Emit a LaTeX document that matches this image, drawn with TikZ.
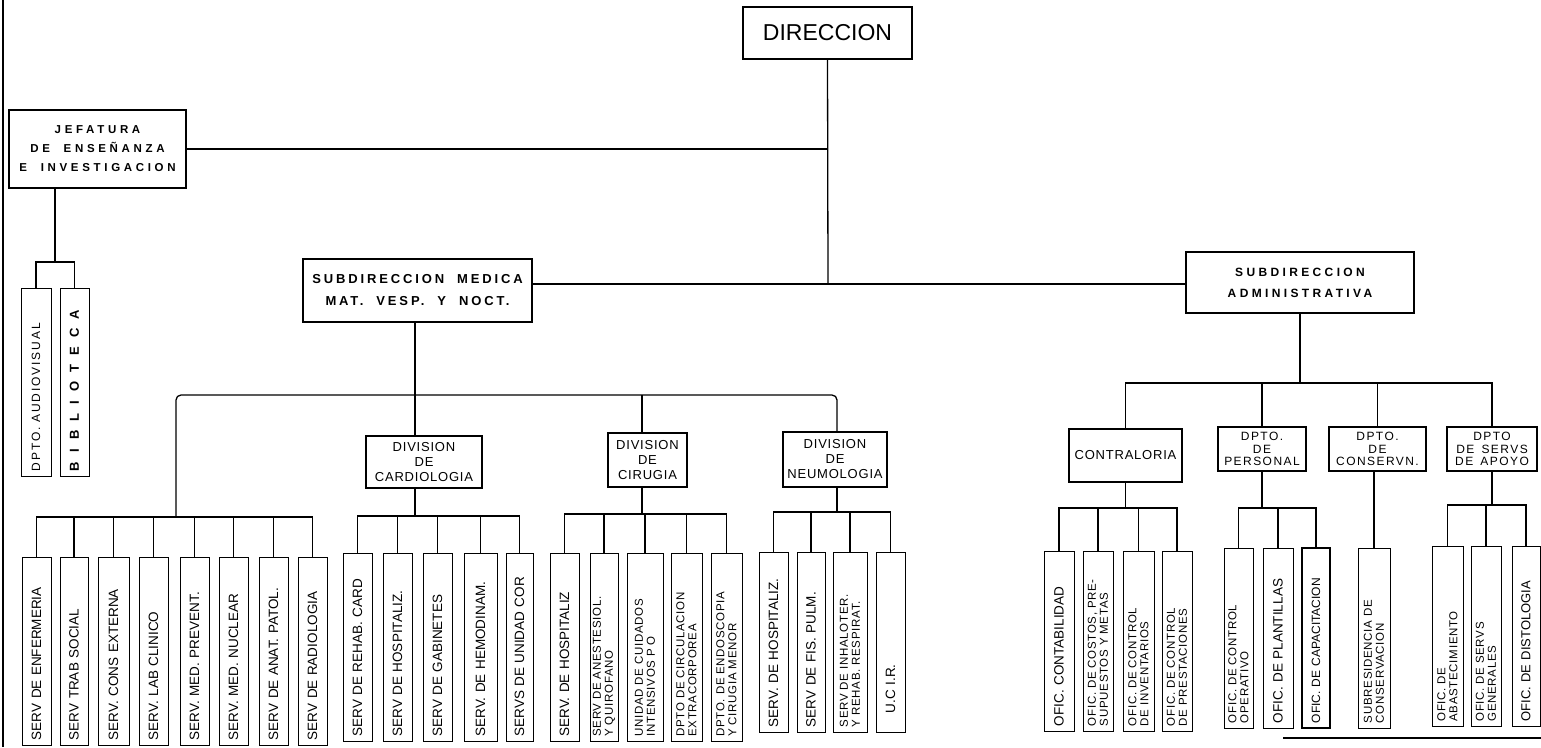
\documentclass[tikz,border=0pt]{standalone}
\usepackage{fontspec}
\setmainfont{Liberation Sans}
\newfontfamily\chieffont[LetterSpace=32, WordSpace=2]{Liberation Sans}
\newfontfamily\subhfont[LetterSpace=28, WordSpace=2]{Liberation Sans}
\newfontfamily\submfont[LetterSpace=22, WordSpace=2]{Liberation Sans}
\newfontfamily\divfont[LetterSpace=6]{Liberation Sans}
\newfontfamily\deptfont[LetterSpace=12, WordSpace=1.5]{Liberation Sans}
\newfontfamily\pairfont[LetterSpace=6, WordSpace=1.8]{Liberation Sans}
\newfontfamily\audiofont[LetterSpace=16, WordSpace=2]{Liberation Sans}
\newfontfamily\bibfont[LetterSpace=70]{Liberation Sans}
\usetikzlibrary{calc}

\begin{document}
\begin{tikzpicture}[x=1pt, y=-1pt,
    % Node styles
    head/.style={
        rectangle, draw=black, line width=1.1pt,
        minimum width=169pt, minimum height=52pt,
        font=\fontsize{23}{26}\selectfont,
    },
    chief/.style={
        rectangle, draw=black, line width=1.1pt, align=center,
        font=\chieffont\bfseries\fontsize{11.5}{19}\selectfont,
    },
    sub/.style={
        rectangle, draw=black, line width=1.1pt, align=center,
        font=\subhfont\bfseries\fontsize{12}{21}\selectfont,
    },
    division/.style={
        rectangle, draw=black, line width=1.1pt, align=center, inner sep=1pt,
        font=\divfont\fontsize{13}{15}\selectfont,
    },
    dept/.style={
        rectangle, draw=black, line width=1.1pt, align=center, inner sep=1pt,
        font=\deptfont\fontsize{12}{12.5}\selectfont,
    },
    leaf/.style={
        rectangle, draw=black, line width=1pt, rotate=90,
        minimum width=188pt, minimum height=29pt,
        text width=178pt, inner xsep=5pt, inner ysep=1pt, align=left,
        font=\fontsize{13.5}{14}\selectfont,
    },
    short/.style={minimum width=180pt, text width=170pt},
    pair/.style={font=\pairfont\fontsize{11.5}{12}\selectfont},
    line/.style={draw=black, line width=1.3pt},
]
\useasboundingbox (0,0) rectangle (1541,747);

% === Top level ===
\node[head] (dir) at (827.5,33) {DIRECCION};
\node[chief, minimum width=177pt, minimum height=78pt] (jef) at (97.5,149)
    {JEFATURA\\DE ENSEÑANZA\\E INVESTIGACION};
\node[sub, minimum width=229pt, minimum height=63pt,
      font=\submfont\bfseries\fontsize{13}{22}\selectfont]
    (subM) at (417.5,290.5) {SUBDIRECCION MEDICA\\MAT. VESP. Y NOCT.};
\node[sub, minimum width=228pt, minimum height=61pt] (subA) at (1300,282.5)
    {SUBDIRECCION\\ADMINISTRATIVA};

% === Divisions ===
\node[division, minimum width=116pt, minimum height=52pt] (divCard) at (424,462) {DIVISION\\DE\\CARDIOLOGIA};
\node[division, minimum width=79pt, minimum height=54pt] (divCir) at (647.5,460) {DIVISION\\DE\\CIRUGIA};
\node[division, minimum width=104pt, minimum height=55pt] (divNeu) at (835,459.5) {DIVISION\\DE\\NEUMOLOGIA};

% === Departments ===
\node[division, minimum width=113pt, minimum height=53pt] (contr) at (1125.5,455.5) {CONTRALORIA};
\node[dept, minimum width=88pt, minimum height=44pt] (pers) at (1262,449) {DPTO.\\DE\\PERSONAL};
\node[dept, minimum width=97pt, minimum height=44pt] (cons) at (1377.5,449) {DPTO.\\DE\\CONSERVN.};
\node[dept, minimum width=90pt, minimum height=44pt] (apoyo) at (1492,449) {DPTO\\DE SERVS\\DE APOYO};

% === Leaves: Jefatura ===
\node[leaf, minimum height=30pt, font=\audiofont\fontsize{12}{13}\selectfont]
    (j1) at (36,382) {DPTO. AUDIOVISUAL};
\node[leaf, font=\bibfont\bfseries\fontsize{13}{14}\selectfont]
    (j2) at (74.5,382) {BIBLIOTECA};

% === Leaves: general services ===
\node[leaf] (m1) at (36.5,651) {SERV DE ENFERMERIA};
\node[leaf, minimum height=28pt] (m2) at (74,651) {SERV TRAB SOCIAL};
\node[leaf, minimum height=31pt] (m3) at (113.5,651) {SERV. CONS EXTERNA};
\node[leaf] (m4) at (153.5,651) {SERV. LAB CLINICO};
\node[leaf] (m5) at (194.5,651) {SERV. MED. PREVENT.};
\node[leaf] (m6) at (233.5,651) {SERV. MED. NUCLEAR};
\node[leaf] (m7) at (273.5,651) {SERV DE ANAT. PATOL.};
\node[leaf] (m8) at (312.5,651) {SERV DE RADIOLOGIA};

% === Leaves: cardiologia ===
\node[leaf] (c1) at (357.5,647.5) {SERV DE REHAB. CARD};
\node[leaf] (c2) at (397.5,647.5) {SERV DE HOSPITALIZ.};
\node[leaf] (c3) at (437.5,647.5) {SERV DE GABINETES};
\node[leaf, minimum height=33pt] (c4) at (480.5,647.5) {SERV. DE HEMODINAM.};
\node[leaf, minimum height=27pt] (c5) at (519.5,647.5) {SERVS DE UNIDAD COR};

% === Leaves: cirugia ===
\node[leaf] (q1) at (564.5,647.5) {SERV. DE HOSPITALIZ};
\node[leaf, pair, minimum height=28pt] (q2) at (604,647.5) {SERV DE ANESTESIOL.\\Y QUIROFANO};
\node[leaf, pair, minimum height=36pt] (q3) at (645,647.5) {UNIDAD DE CUIDADOS\\INTENSIVOS P O};
\node[leaf, pair, minimum height=31pt] (q4) at (686.5,647.5) {DPTO DE CIRCULACION\\EXTRACORPOREA};
\node[leaf, pair, minimum height=31pt] (q5) at (726.5,647.5) {DPTO. DE ENDOSCOPIA\\Y CIRUGIA MENOR};

% === Leaves: neumologia ===
\node[leaf, short] (n1) at (773.5,642) {SERV. DE HOSPITALIZ.};
\node[leaf, short, minimum height=28pt] (n2) at (811,642) {SERV DE FIS. PULM.};
\node[leaf, short, pair, minimum height=34pt] (n3) at (850,642) {SERV DE INHALOTER.\\Y REHAB. RESPIRAT.};
\node[leaf, short] (n4) at (890.5,642) {\hspace*{14pt}U.C I.R.};

% === Leaves: administracion ===
\node[leaf, short, minimum height=30pt] (k1) at (1059,641) {OFIC. CONTABILIDAD};
\node[leaf, short, pair, minimum height=30pt] (k2) at (1098,641) {OFIC. DE COSTOS, PRE-\\SUPUESTOS Y METAS};
\node[leaf, short, pair, minimum height=31pt] (k3) at (1138.5,641) {OFIC. DE CONTROL\\DE INVENTARIOS};
\node[leaf, short, pair, minimum height=30pt] (k4) at (1177,641) {OFIC. DE CONTROL\\DE PRESTACIONES};
\node[leaf, short, pair] (p1) at (1238.5,638) {OFIC. DE CONTROL\\OPERATIVO};
\node[leaf, short, minimum height=30pt] (p2) at (1278,638) {OFIC. DE PLANTILLAS};
\node[leaf, short, minimum height=28pt, line width=2pt, font=\fontsize{12}{13}\selectfont]
    (p3) at (1316,638) {OFIC. DE CAPACITACION};
\node[leaf, short, pair, minimum height=32pt] (s1) at (1374,638) {SUBRESIDENCIA DE\\CONSERVACION};
\node[leaf, short, pair, minimum height=31pt] (a1) at (1447.5,636.5) {OFIC. DE\\ABASTECIMIENTO};
\node[leaf, short, pair, minimum height=30pt] (a2) at (1486,636.5) {OFIC. DE SERVS\\GENERALES};
\node[leaf, short, minimum height=28pt, font=\fontsize{13}{14}\selectfont]
    (a3) at (1526,636.5) {OFIC. DE DISTOLOGIA};

% === Bus coordinates ===
\coordinate (hub)  at (828,284);
\coordinate (jb)   at (55,262);
\coordinate (mbus) at (415,395);
\coordinate (g1)   at (176,517);
\coordinate (cb)   at (415,516);
\coordinate (qb)   at (642,514);
\coordinate (nb)   at (837,512);
\coordinate (abus) at (1300,383);
\coordinate (kb)   at (1125.5,508);
\coordinate (pb)   at (1262,508);
\coordinate (ab)   at (1492,505);

% === Edges: direccion ===
\draw[line] (dir.south) -- (hub);
\draw[line] (subM.east |- hub) -- (subA.west |- hub);
\draw[line] (jef.east) -- (jef.east -| hub);

% === Edges: jefatura ===
\draw[line] (jb |- jef.south) -- (jb);
\draw[line] (j1.east) |- (jb) -| (j2.east);

% === Edges: subdireccion medica ===
\draw[line] (cb |- subM.south) -- (cb |- divCard.north);
\draw[line, rounded corners=5pt] (g1) -- (g1 |- mbus) -- (nb |- mbus) -- (nb |- divNeu.north);
\draw[line] (qb |- mbus) -- (qb |- divCir.north);

\draw[line] (m1.east) |- (g1) -| (m8.east);
\draw[line] (m2.east) -- (m2.east |- g1) (m3.east) -- (m3.east |- g1)
            (m4.east) -- (m4.east |- g1) (m5.east) -- (m5.east |- g1)
            (m6.east) -- (m6.east |- g1) (m7.east) -- (m7.east |- g1);

\draw[line] (cb |- divCard.south) -- (cb);
\draw[line] (c1.east) |- (cb) -| (c5.east);
\draw[line] (c2.east) -- (c2.east |- cb) (c3.east) -- (c3.east |- cb)
            (c4.east) -- (c4.east |- cb);

\draw[line] (qb |- divCir.south) -- (qb);
\draw[line] (q1.east) |- (qb) -| (q5.east);
\draw[line] (q2.east) -- (q2.east |- qb) (q3.east) -- (q3.east |- qb)
            (q4.east) -- (q4.east |- qb);

\draw[line] (nb |- divNeu.south) -- (nb);
\draw[line] (n1.east) |- (nb) -| (n4.east);
\draw[line] (n2.east) -- (n2.east |- nb) (n3.east) -- (n3.east |- nb);

% === Edges: subdireccion administrativa ===
\draw[line] (subA.south) -- (abus);
\draw[line] (contr.north) |- (abus) -| (apoyo.north);
\draw[line] (pers.north |- abus) -- (pers.north) (cons.north |- abus) -- (cons.north);

\draw[line] (contr.south) -- (kb);
\draw[line] (k1.east) |- (kb) -| (k4.east);
\draw[line] (k2.east) -- (k2.east |- kb) (k3.east) -- (k3.east |- kb);

\draw[line] (pers.south) -- (pb);
\draw[line] (p1.east) |- (pb) -| (p3.east);
\draw[line] (p2.east) -- (p2.east |- pb);

\draw[line] (s1.east |- cons.south) -- (s1.east);

\draw[line] (apoyo.south) -- (ab);
\draw[line] (a1.east) |- (ab) -| (a3.east);
\draw[line] (a2.east) -- (a2.east |- ab);

% === Page edges ===
\draw[line width=1.6pt] (3,0) -- (3,747);
\draw[line width=1.6pt] (1283,738) -- (1541,738);

\end{tikzpicture}
\end{document}
